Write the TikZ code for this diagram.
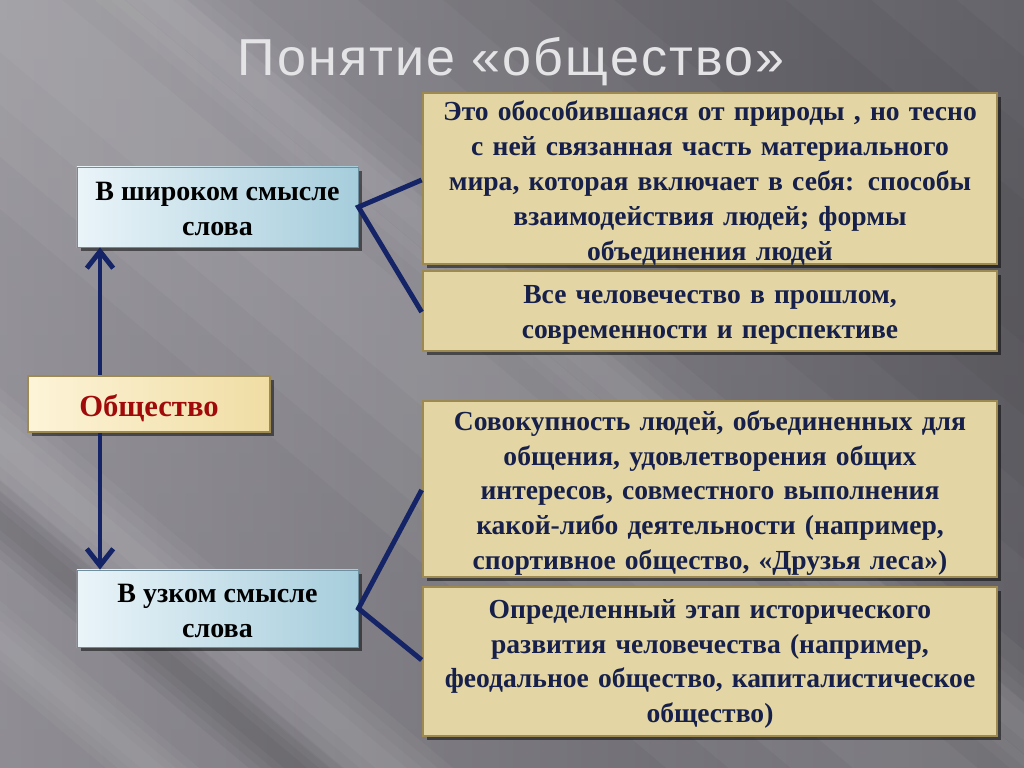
\documentclass[tikz,border=0pt]{standalone}
\usepackage{fontspec}
\setmainfont{Liberation Serif}
\newfontfamily\titlefont[LetterSpace=4]{Liberation Sans}
\usetikzlibrary{shadows,arrows.meta}
\definecolor{navy}{HTML}{142466}
\definecolor{txtnavy}{HTML}{16204A}
\definecolor{khaki}{HTML}{E3D6A4}
\definecolor{khakiborder}{HTML}{9C8A52}
\definecolor{bluetop}{HTML}{EAF4F9}
\definecolor{bluebot}{HTML}{A6CDDC}
\definecolor{blueborder}{HTML}{6E8FA0}
\definecolor{creamL}{HTML}{FDF4D8}
\definecolor{creamR}{HTML}{F0DDA4}
\definecolor{darkred}{HTML}{A00A0A}
\definecolor{bgA}{HTML}{A4A2A8}
\definecolor{bgB}{HTML}{848289}
\definecolor{bgC}{HTML}{58575D}
\definecolor{titlegray}{HTML}{E4E4E6}
\tikzset{
  shadowed/.style={drop shadow={shadow xshift=0.9mm, shadow yshift=-1.1mm, opacity=0.5, fill=black}},
  bluebox/.style={draw=blueborder, line width=0.6pt, shading=axis, shading angle=120,
    left color=bluetop, right color=bluebot,
    minimum width=7.025cm, shadowed},
  bluetext/.style={align=center, font=\fontsize{19.9}{25}\selectfont\bfseries, text=black},
  creambox/.style={draw=khakiborder, line width=1.8pt, left color=creamL, right color=creamR,
    minimum width=6.05cm, minimum height=1.4cm, shadowed},
  creamtext/.style={font=\fontsize{21.8}{24}\selectfont\bfseries, text=darkred},
  infobox/.style={draw=khakiborder, line width=1.8pt, fill=khaki,
    minimum width=14.35cm, shadowed},
  infotext/.style={text width=14.2cm, align=center,
    font=\fontsize{19.6}{24.8}\selectfont\bfseries, text=txtnavy},
  link/.style={navy, line width=3.5pt},
  arrowline/.style={navy, line width=3.5pt, -{Straight Barb[length=4.2mm, width=6.6mm, line width=3.5pt]}},
}
% soft streak: #1 x, #2 y of a point on it, #3 half width, #4 colour, #5 opacity per layer
\newcommand{\softstreak}[5]{%
  \begin{scope}[shift={(#1,#2)}, rotate=-40]
    \foreach \k in {0.25,0.5,0.75,1} {
      \fill[#4, opacity=#5] (-1600,-#3*\k) rectangle (1600,#3*\k);
    }
  \end{scope}}
\begin{document}
\begin{tikzpicture}[x=0.025cm, y=-0.025cm]
  % background
  \useasboundingbox (0,0) rectangle (1024,768);
  \shade[left color=bgA, right color=bgC] (0,0) rectangle (1024,768);
  \shade[top color=bgB, bottom color=bgB!85!black, opacity=0.4] (0,0) rectangle (1024,768);
  \begin{scope}
    \clip (0,0) rectangle (1024,768);
    \softstreak{0}{0}{160}{white}{0.04}
    \softstreak{0}{440}{40}{white}{0.04}
    \softstreak{0}{520}{30}{black}{0.04}
    \softstreak{0}{640}{30}{white}{0.035}
    \softstreak{300}{120}{40}{white}{0.03}
    \softstreak{700}{0}{220}{black}{0.03}
  \end{scope}

  % title
  \node[font=\titlefont\fontsize{37}{40}\selectfont, text=titlegray] (title) at (511,62) {Понятие «общество»};

  % left nodes
  \node[bluebox, minimum height=2cm] (wide) at (217.5,207) {};
  \node[bluetext] (widetext) at (217.5,209) {В широком смысле\\слова};
  \node[creambox] (soc) at (149,404) {};
  \node[creamtext] (soctext) at (149,408) {Общество};
  \node[bluebox, minimum height=1.925cm] (narrow) at (217.5,608.5) {};
  \node[bluetext] (narrowtext) at (217.5,611) {В узком смысле\\слова};

  % right nodes
  \node[infobox, minimum height=4.275cm] (r1) at (710,178.5) {};
  \node[infotext] (r1text) at (710,183)
    {Это обособившаяся от природы , но тесно\\с ней связанная часть материального\\мира, которая включает в себя: способы\\взаимодействия людей; формы\\объединения людей};
  \node[infobox, minimum height=2cm] (r2) at (710,311) {};
  \node[infotext] (r2text) at (710,315)
    {Все человечество в прошлом,\\современности и перспективе};
  \node[infobox, minimum height=4.4cm] (r3) at (710,489) {};
  \node[infotext] (r3text) at (710,493)
    {Совокупность людей, объединенных для\\общения, удовлетворения общих\\интересов, совместного выполнения\\какой-либо деятельности (например,\\спортивное общество, «Друзья леса»)};
  \node[infobox, minimum height=3.725cm] (r4) at (710,661.5) {};
  \node[infotext] (r4text) at (710,664)
    {Определенный этап исторического\\развития человечества (например,\\феодальное общество, капиталистическое\\общество)};

  % connector anchors
  \coordinate (r1a) at (r1.west |- 0,180);
  \coordinate (r2a) at (r2.west |- 0,312);
  \coordinate (r3a) at (r3.west |- 0,490);
  \coordinate (r4a) at (r4.west |- 0,660);

  \draw[link, line join=miter] (r1a) -- (wide.east) -- (r2a);
  \draw[link, line join=miter] (r3a) -- (narrow.east) -- (r4a);

  % arrows
  \draw[arrowline] (soc.north -| 100,0) -- (wide.south -| 100,0);
  \draw[arrowline] (soc.south -| 100,0) -- (narrow.north -| 100,0);
\end{tikzpicture}
\end{document}
